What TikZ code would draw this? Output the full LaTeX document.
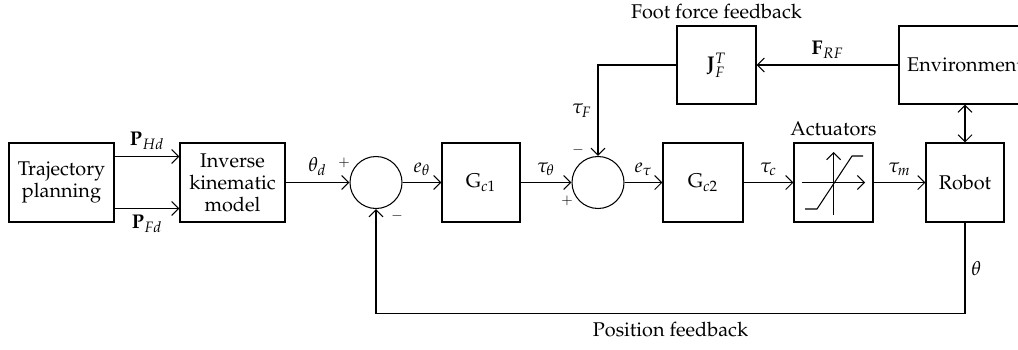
\documentclass[tikz,border=0pt]{standalone}
\usepackage[T1]{fontenc}
\usepackage{mathpazo}
\usepackage{amsmath}
\usetikzlibrary{arrows.meta, positioning}

\begin{document}
\begin{tikzpicture}[
    font=\fontsize{11.3}{12.5}\selectfont,
    blk/.style={draw, line width=0.6pt, minimum width=1.58cm, minimum height=1.58cm, align=center, inner sep=0.5mm},
    sumc/.style={draw, line width=0.6pt, circle, minimum size=1.04cm, inner sep=0pt},
    arr/.style={-{Straight Barb[length=1.4mm, width=2.8mm]}, line width=0.6pt},
    darr/.style={{Straight Barb[length=1.4mm, width=2.8mm]}-{Straight Barb[length=1.4mm, width=2.8mm]}, line width=0.6pt},
    sgn/.style={font=\footnotesize, inner sep=0pt}
  ]
    \useasboundingbox (0,0) rectangle (20.36,-6.98);
    \node[blk, minimum width=2.1cm] (traj) at (1.23,-3.65) {Trajectory\\planning};
    \node[blk, minimum width=2.1cm] (ik) at (4.65,-3.65) {Inverse\\kinematic\\model};
    \node[sumc] (sum1) at (7.52,-3.65) {};
    \node[blk, minimum width=1.56cm] (gc1) at (9.62,-3.65) {$\mathrm{G}_{c1}$};
    \node[sumc] (sum2) at (11.96,-3.65) {};
    \node[blk, minimum width=1.6cm] (gc2) at (14.06,-3.65) {$\mathrm{G}_{c2}$};
    \node[blk] (act) at (16.67,-3.65) {};
    \node[blk, minimum width=1.56cm] (robot) at (19.30,-3.65) {Robot};
    \node[blk, minimum height=1.56cm] (jf) at (14.33,-1.30) {$\mathbf{J}_F^T$};
    \node[blk, minimum width=2.64cm, minimum height=1.56cm] (env) at (19.30,-1.30) {Environment};
    \node[above=0pt of act] (actlbl) {Actuators};
    \node[above=0pt of jf] (footfb) {Foot force feedback};
    \node[sgn] (s1p) at ([shift={(-0.64,0.40)}]sum1.center) {$+$};
    \node[sgn] (s1m) at ([shift={(0.42,-0.66)}]sum1.center) {$-$};
    \node[sgn] (s2p) at ([shift={(-0.62,-0.36)}]sum2.center) {$+$};
    \node[sgn] (s2m) at ([shift={(-0.40,0.66)}]sum2.center) {$-$};
    \draw[arr] ([yshift=0.52cm]traj.east) -- node[above] {$\mathbf{P}_{Hd}$} ([yshift=0.52cm]ik.west);
    \draw[arr] ([yshift=-0.52cm]traj.east) -- node[below] {$\mathbf{P}_{Fd}$} ([yshift=-0.52cm]ik.west);
    \draw[arr] (ik) -- node[above] {$\theta_d$} (sum1);
    \draw[arr] (sum1) -- node[above] {$e_\theta$} (gc1);
    \draw[arr] (gc1) -- node[above] {$\tau_\theta$} (sum2);
    \draw[arr] (sum2) -- node[above] {$e_\tau$} (gc2);
    \draw[arr] (gc2) -- node[above] {$\tau_c$} (act);
    \draw[arr] (act) -- node[above] {$\tau_m$} (robot);
    \draw[arr] (env) -- node[above] {$\mathbf{F}_{RF}$} (jf);
    \draw[arr] (jf.west) -| node[left, pos=0.75] {$\tau_F$} (sum2.north);
    \draw[darr] (env.south) -- (robot.north);
    \draw[arr] (robot.south) -- node[right] {$\theta$} ++(0,-1.82) -| node[below=1pt, pos=0.25] (posfb) {Position feedback} (sum1.south);
    \begin{scope}[shift={(act.center)}, line width=0.6pt]
      \draw[arr] (-0.63,0) -- (0.63,0);
      \draw[arr] (0,-0.65) -- (0,0.61);
      \draw (-0.57,-0.53) -- (-0.33,-0.53) -- (0.37,0.53) -- (0.59,0.53);
    \end{scope}
  \end{tikzpicture}
\end{document}
